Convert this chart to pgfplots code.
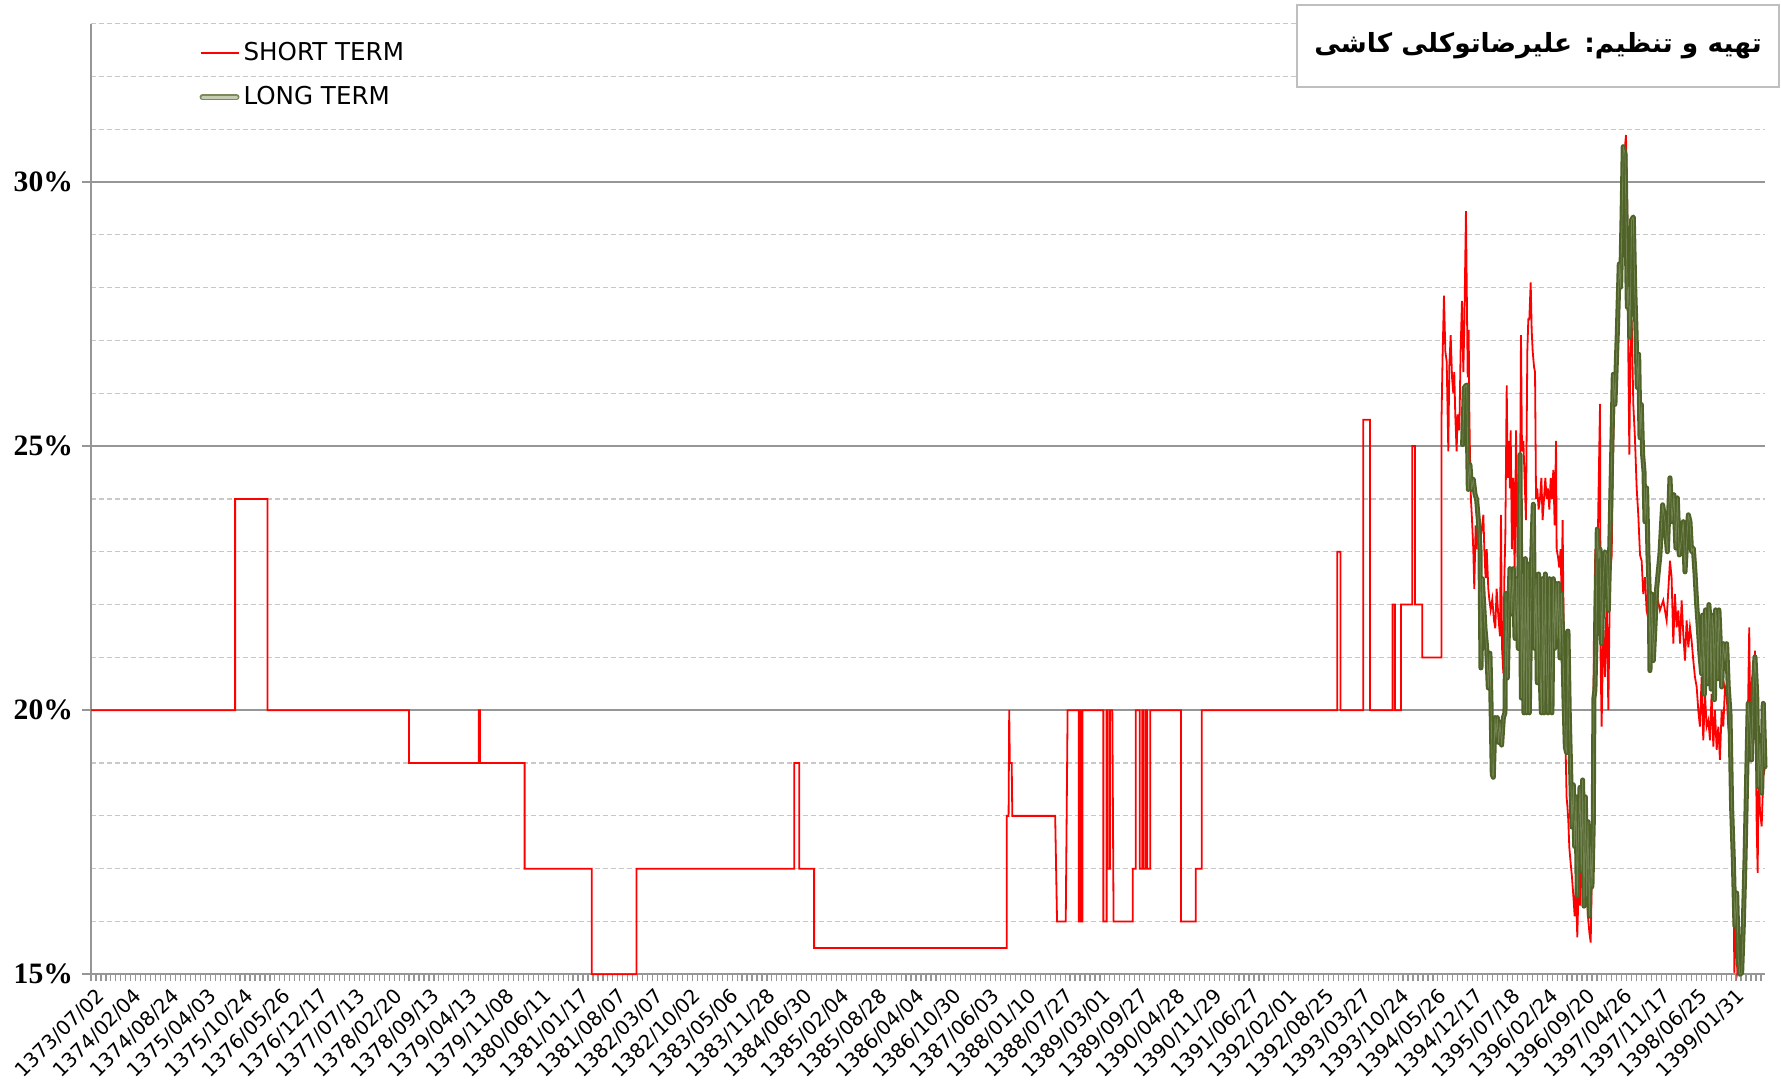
\documentclass[border=0pt]{standalone}
\usepackage{fontspec}
\setmainfont{DejaVu Sans}
\newfontfamily\serifbold{Liberation Serif}
\newfontfamily\arabicfont[Script=Arabic]{DejaVu Sans}
\TeXXeTstate=1
\usepackage{pgfplots}
\pgfplotsset{compat=1.18}
\usepackage{pgfplotstable}

\definecolor{olivedark}{RGB}{79,98,40}
\definecolor{olivepale}{RGB}{196,205,178}
\definecolor{gridgray}{RGB}{200,200,200}
\definecolor{majorgray}{RGB}{150,150,150}

% x = week index (labels every 30 weeks), y = rate in percent
\pgfplotstableread{
week rate
0 20
116 20
116 24
142 24
142 20
256 20
256 19
312 19
312 20
313 20
313 19
349 19
349 17
403 17
403 15
439 15
439 17
566 17
566 19
570 19
570 17
582 17
582 15.5
737 15.5
737 18
738.5 18
739 20
739.5 19
741 19
741.5 18
776 18
777.5 16
784.5 16
786 20
795 20
795 16
796 16
796 20
797 20
797 16
798 16
798 20
814.8 20
814.8 16
817.4 16
817.4 20
818.3 20
818.3 17
820.1 17
820.1 20
822 20
823 16
838.4 16
838.4 17
840.8 17
840.8 20
844 20
844 17
846 17
846 20
847 20
847 17
849 17
849 20
850 20
850 17
852.5 17
852.5 20
877.3 20
877.3 16
889.1 16
889.1 17
893.9 17
893.9 20
1003 20
1003 23
1005.7 23
1005.7 20
1024 20
1024 25.5
1029.3 25.5
1029.3 20
1047.6 20
1047.6 22
1049.5 22
1049.5 20
1054.3 20
1054.3 22
1063.4 22
1063.4 25
1065.6 25
1065.6 22
1071.5 22
1071.5 21
1087 21
1087 25.6
1087.8 26.7
1088.9 27.85
1090.0 26.8
1091.1 26.6
1092.4 24.9
1093.2 26.5
1094.3 27.1
1095.4 26.3
1096.4 26.0
1097.2 26.4
1098.0 25.6
1099.1 24.9
1099.9 25.6
1101.3 25.3
1102.3 26.8
1103.4 27.75
1104.5 26.4
1105.3 27.3
1106.6 29.45
1107.2 28.1
1108.0 26.3
1108.8 27.2
1109.3 25.7
1109.8 24.9
1110.6 24.0
1111.5 23.6
1112.5 23.05
1113.3 22.3
1114.4 23.5
1115.2 23.05
1116.5 23.6
1117.9 23.2
1119.2 23.4
1120.6 23.7
1121.4 23.05
1122.4 22.5
1123.3 23.05
1124.6 22.3
1125.4 22.1
1126.5 21.9
1127.8 22.1
1129.2 21.7
1130.2 21.55
1131.3 22.3
1132.6 21.8
1134.0 21.4
1134.8 23.7
1135.6 21.2
1136.7 20.7
1137.5 22.5
1138.3 23.3
1139.4 26.15
1140.2 24.4
1141.0 25.1
1142.0 24.2
1142.6 25.3
1143.6 23.05
1144.7 24.4
1145.8 22.6
1146.9 25.3
1147.4 24.4
1148.2 22.9
1149.0 23.6
1150.1 24.0
1150.9 27.1
1151.7 24.9
1152.8 25.1
1153.8 24.4
1154.9 23.6
1156.0 26.8
1156.8 27.4
1157.6 27.4
1158.7 28.1
1159.5 27.2
1160.3 26.8
1161.4 26.5
1162.2 26.4
1163.0 24.0
1164.0 24.2
1165.1 23.8
1166.2 24.0
1167.3 24.4
1168.3 23.6
1169.4 24.0
1170.5 24.4
1171.5 24.0
1172.6 24.2
1173.7 23.8
1174.8 24.4
1175.8 24.0
1176.9 24.55
1178.0 23.5
1179.1 25.1
1179.6 23.05
1180.7 22.9
1181.7 22.7
1182.8 23.05
1183.6 22.1
1184.4 23.6
1185.2 21.6
1186.0 20.7
1186.8 19.3
1187.6 18.35
1188.2 18.2
1189.0 17.9
1189.8 17.4
1190.9 17.1
1191.9 16.85
1193.0 16.5
1194.1 16.1
1195.2 16.7
1196.2 15.7
1197.3 16.7
1198.4 16.3
1199.4 17.0
1200.5 16.7
1201.6 16.9
1202.7 16.5
1203.7 16.85
1204.8 16.1
1205.9 15.8
1207.0 15.6
1207.8 16.7
1208.6 17.9
1209.6 21.4
1210.7 23.05
1211.8 21.55
1213.1 23.8
1214.5 25.8
1215.0 20.94
1215.8 19.69
1217.1 21.57
1218.5 20.63
1219.8 22.2
1221.2 20.0
1222.5 22.5
1223.9 22.94
1225.2 25.16
1226.5 26.1
1227.9 26.74
1229.2 27.63
1230.6 28.33
1231.9 28.77
1233.2 29.91
1234.6 30.67
1235.4 30.89
1236.2 29.91
1237.0 27.38
1238.1 24.84
1238.9 26.74
1240.0 27.38
1241.3 25.79
1242.6 25.16
1244.0 24.21
1245.3 23.70
1246.7 22.94
1248.0 22.83
1249.3 22.2
1250.7 22.52
1252.0 21.89
1254.7 21.57
1257.4 22.08
1260.1 22.2
1262.7 21.89
1265.4 22.08
1268.1 21.7
1270.8 22.83
1272.1 22.52
1273.5 21.26
1274.8 22.2
1276.2 21.57
1277.5 21.89
1278.9 21.26
1280.2 22.08
1281.5 21.45
1282.9 20.94
1284.2 21.7
1285.6 21.19
1286.9 21.57
1288.2 21.32
1289.6 20.94
1290.9 20.63
1292.3 20.44
1293.6 20.0
1294.9 19.69
1296.3 20.63
1297.6 19.43
1299.0 20.31
1300.3 19.69
1301.7 19.81
1303.0 19.43
1304.3 20.31
1305.7 19.31
1307.0 20.0
1308.4 19.25
1309.7 19.69
1311.0 19.06
1312.4 20.0
1313.7 19.69
1315.1 20.44
1316.4 20.31
1317.7 19.69
1319.1 19.31
1320.4 18.43
1321.8 17.17
1322.6 15.03
1323.9 15.91
1325.0 15.03
1327.1 15.28
1329.8 15.91
1331.2 17.8
1332.5 18.43
1333.8 20.31
1334.6 21.57
1335.7 19.06
1336.8 20.63
1337.9 19.69
1339.2 21.13
1340.6 17.8
1341.4 16.92
1342.2 19.06
1343.2 18.11
1344.6 17.8
1345.9 18.74
1347.3 18.93
}\shortterm

\pgfplotstableread{
week rate
1103.9 25.03
1105.3 26.11
1107.2 26.16
1108.5 24.18
1109.8 24.65
1111.2 24.18
1112.5 24.37
1113.9 24.09
1115.2 23.99
1116.5 23.62
1117.9 23.05
1118.7 20.8
1119.8 22.49
1120.6 22.11
1121.9 21.55
1123.3 21.17
1124.6 20.42
1125.9 21.08
1126.7 20.23
1127.8 18.78
1128.6 18.73
1130.0 19.86
1130.8 19.48
1131.8 19.86
1132.9 19.39
1134.0 19.77
1135.3 19.34
1136.7 19.86
1138.0 19.95
1138.8 22.21
1139.9 20.61
1141.0 21.74
1142.0 22.68
1143.4 21.83
1144.7 22.68
1146.1 21.36
1147.4 22.49
1148.7 21.17
1150.1 24.84
1151.2 20.23
1152.2 22.58
1153.3 19.95
1154.4 22.87
1155.4 19.95
1156.5 22.77
1157.6 19.95
1158.7 21.93
1159.7 23.05
1160.8 23.9
1161.9 21.17
1163.0 22.49
1164.0 20.52
1165.1 22.58
1166.2 20.8
1167.3 19.95
1168.3 22.49
1169.4 19.95
1170.5 22.58
1171.5 20.7
1172.6 19.95
1173.7 22.49
1174.8 20.89
1175.8 19.95
1176.9 22.49
1178.0 21.17
1179.1 22.4
1180.1 21.36
1181.2 22.4
1182.3 20.99
1183.4 22.21
1184.4 21.46
1185.5 20.23
1186.6 19.3
1187.6 19.2
1188.7 21.5
1189.8 19.86
1190.9 18.83
1191.9 17.79
1193.0 18.59
1194.1 17.42
1195.2 18.36
1196.2 16.48
1197.3 17.79
1198.4 18.54
1199.4 16.95
1200.5 18.68
1201.6 16.29
1202.7 18.36
1203.7 16.48
1204.8 17.89
1205.9 16.1
1207.0 17.42
1208.0 16.66
1209.1 17.89
1209.6 20.23
1210.4 20.38
1211.3 21.36
1212.3 23.43
1213.4 22.87
1214.5 23.05
1215.8 21.26
1217.1 22.52
1218.5 23.0
1219.8 22.94
1221.2 21.89
1222.5 23.26
1223.9 24.84
1225.2 26.36
1226.5 25.79
1228.4 27.12
1230.0 28.45
1231.1 28.01
1232.2 29.28
1233.2 30.67
1234.6 30.54
1235.4 29.4
1236.5 27.63
1237.5 28.01
1238.6 27.06
1239.9 29.28
1241.3 29.34
1242.4 28.01
1243.4 27.25
1244.5 26.11
1245.6 26.74
1246.7 25.16
1247.7 25.79
1248.8 24.84
1249.9 24.52
1250.7 23.57
1252.0 24.21
1253.1 22.94
1254.2 22.2
1254.7 20.75
1256.0 22.2
1257.4 20.94
1258.7 21.57
1260.1 22.31
1262.7 22.94
1264.9 23.89
1266.8 23.57
1268.7 23.0
1270.8 24.4
1272.4 23.57
1274.0 24.08
1275.6 23.07
1276.7 24.02
1278.3 22.94
1280.2 23.26
1281.5 23.57
1282.9 22.62
1284.2 23.19
1285.6 23.7
1286.9 23.57
1288.2 23.0
1289.6 23.07
1290.9 22.62
1292.3 22.01
1293.6 21.57
1294.9 21.07
1296.3 20.69
1297.0 21.8
1297.6 21.26
1298.5 20.3
1299.4 21.9
1300.3 21.57
1301.2 20.5
1302.1 22.0
1303.0 21.7
1303.9 20.4
1304.8 21.8
1305.7 21.57
1306.6 20.2
1307.5 21.9
1308.4 21.7
1309.3 20.6
1310.2 21.9
1311.0 21.45
1312.4 20.44
1313.7 21.26
1315.1 20.94
1316.4 21.26
1317.7 20.44
1319.1 19.94
1320.4 18.18
1321.8 17.17
1323.1 15.91
1324.5 16.54
1325.8 15.28
1327.1 15.0
1328.5 15.03
1329.8 15.91
1331.2 17.17
1332.5 18.68
1333.8 20.13
1335.2 19.69
1336.5 19.06
1337.9 20.44
1339.2 21.01
1340.6 20.31
1341.9 18.55
1343.2 19.37
1344.6 18.43
1345.9 20.13
1347.3 18.93
}\longterm

\begin{document}
\begin{tikzpicture}
\begin{axis}[
    scale only axis,
    width=837pt, height=475.35pt,
    xmin=0, xmax=1347.3,
    ymin=15, ymax=33,
    clip=false,
    axis x line*=bottom, axis y line*=left,
    axis line style={majorgray, line width=0.9pt, -},
    tick align=outside,
    xtick={0,30,...,1320},
    xticklabels={1373/07/02,1374/02/04,1374/08/24,1375/04/03,1375/10/24,1376/05/26,1376/12/17,1377/07/13,1378/02/20,1378/09/13,1379/04/13,1379/11/08,1380/06/11,1381/01/17,1381/08/07,1382/03/07,1382/10/02,1383/05/06,1383/11/28,1384/06/30,1385/02/04,1385/08/28,1386/04/04,1386/10/30,1387/06/03,1388/01/10,1388/07/27,1389/03/01,1389/09/27,1390/04/28,1390/11/29,1391/06/27,1392/02/01,1392/08/25,1393/03/27,1393/10/24,1394/05/26,1394/12/17,1395/07/18,1396/02/24,1396/09/20,1397/04/26,1397/11/17,1398/06/25,1399/01/31},
    minor xtick={0,4,...,1344},
    major x tick style={draw=none},
    minor x tick style={majorgray, line width=0.6pt},
    minor tick length=3.5pt,
    major tick length=4.5pt,
    ytick={15,20,25,30},
    yticklabels={15\%,20\%,25\%,30\%},
    minor ytick={16,17,18,19,21,22,23,24,26,27,28,29,31,32,33},
    minor y tick style={draw=none},
    major y tick style={majorgray, line width=0.9pt},
    ymajorgrids, yminorgrids,
    major grid style={majorgray, line width=0.8pt},
    minor grid style={gridgray, line width=0.6pt, dash pattern=on 2.5pt off 1.5pt},
    xticklabel style={font=\fontsize{10}{12}\selectfont, inner sep=1pt, xshift=2pt, rotate=45, anchor=north east},
    yticklabel style={font=\serifbold\bfseries\fontsize{14.8}{16}\selectfont, xshift=-1pt},
    legend style={at={(0.061,0.989)}, anchor=north west, draw=none, fill=none,
        font=\fontsize{12.3}{14}\selectfont, row sep=7.5pt},
    legend cell align=left,
]
\addplot[red, line width=0.9pt,
    legend image code/.code={\draw[red, line width=0.9pt] (0pt,0pt) -- (19pt,0pt);}]
    table[x=week, y=rate] {\shortterm};
\addlegendentry{SHORT TERM}
\addplot[olivedark, line width=2.5pt, line join=round, line cap=round,
    legend image code/.code={
        \draw[olivedark!75, line width=3pt, line cap=round] (1pt,0pt) -- (18pt,0pt);
        \draw[olivepale, line width=1.5pt, line cap=round] (1pt,0pt) -- (18pt,0pt);}]
    table[x=week, y=rate] {\longterm};
\addlegendentry{LONG TERM}
\addplot[olivepale, line width=0.4pt, opacity=0.3, line join=round, forget plot]
    table[x=week, y=rate] {\longterm};
\end{axis}
\node[draw=black!25, line width=0.8pt, fill=white, minimum width=241pt, minimum height=41pt, inner sep=0pt]
    at (723.5pt,464.15pt) {\arabicfont\bfseries\fontsize{13.2}{16}\selectfont\beginR تهیه و تنظیم: علیرضاتوکلی کاشی\endR};
\pgfresetboundingbox
\path[use as bounding box] (-45.5pt,-54.85pt) rectangle (845pt,487.15pt);
\end{tikzpicture}
\end{document}
